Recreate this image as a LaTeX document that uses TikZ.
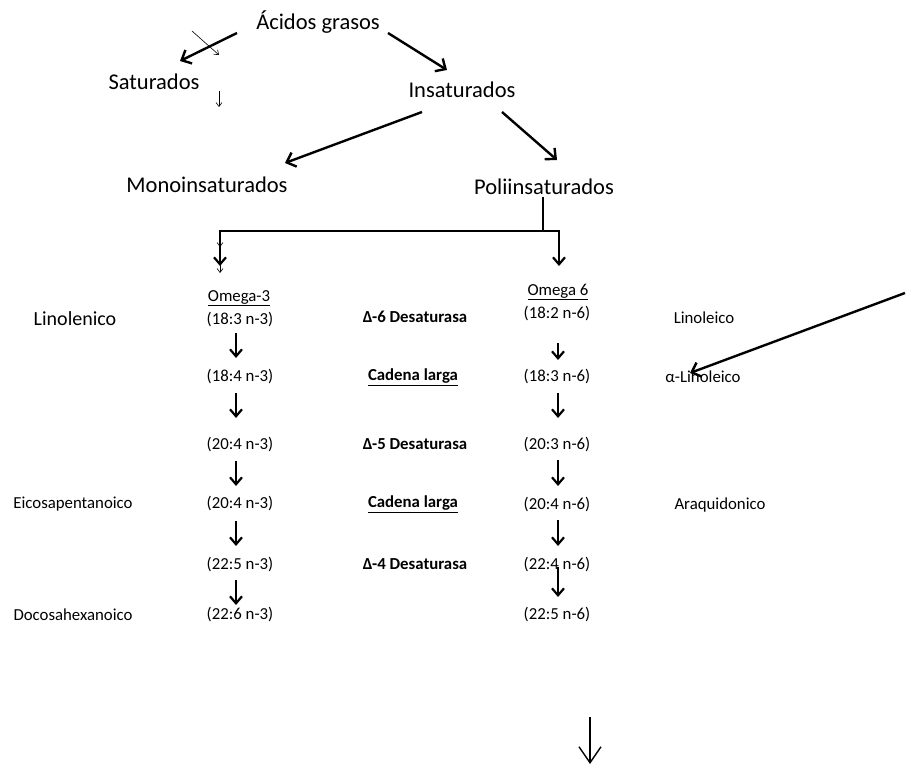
\documentclass[tikz,border=0pt]{standalone}
\usepackage{fontspec}
\setmainfont{Carlito}
\usetikzlibrary{arrows.meta,calc}
\tikzset{
    every node/.style={inner sep=0pt, font=\fontsize{16.8}{19}\selectfont}
}
\tikzset{
    big/.style={font=\fontsize{22.5}{26}\selectfont},
    mid/.style={font=\fontsize{20}{23}\selectfont},
    enzima/.style={font=\fontsize{16.8}{19}\selectfont\bfseries}
}
\tikzset{
    bigarrow/.style={line width=2.4pt, -{Straight Barb[length=8pt,width=15pt]}},
    downarrow/.style={line width=2.2pt, -{Straight Barb[length=7pt,width=12pt]}},
    thinarrow/.style={line width=0.6pt, -{Straight Barb[length=4pt,width=6pt]}},
    lastarrow/.style={line width=1.4pt, -{Straight Barb[length=16pt,width=22pt]}}
}

\begin{document}
\begin{tikzpicture}[x=1pt,y=-1pt]
	\useasboundingbox (0,0) rectangle (906,765);
	% clasificacion
	\node (acidos) [big] at (318,22) {Ácidos grasos};
	\node (sat) [big] at (154,82) {Saturados};
	\node (insat) [big] at (462,90) {Insaturados};
	\node (mono) [big] at (207,185) {Monoinsaturados};
	\node (poli) [big] at (544,187) {Poliinsaturados};
	
	\coordinate (t1) at (192,31); \coordinate (t2) at (219,55);
	\coordinate (t3) at (219,91); \coordinate (t4) at (219,107);
	\draw[thinarrow] (t1) -- (t2);
	\draw[thinarrow] (t3) -- (t4);
	
	\draw[bigarrow] ($(acidos)+(-81,11)$) -- ($(sat)+(26,-21)$);
	\draw[bigarrow] ($(acidos)+(70,11)$) -- ($(insat)+(-15,-20)$);
	\draw[bigarrow] ($(insat)+(-40,22)$) -- ($(mono)+(78,-22)$);
	\draw[bigarrow] ($(insat)+(40,22)$) -- ($(poli)+(13,-27)$);
	
	% reparto omega
	\coordinate (br) at (543,231);
	\coordinate (l3) at (220,266); \coordinate (l6) at (559,266);
	\draw[line width=2.2pt] ($(poli)+(-1,10)$) -- (br);
	\draw[downarrow] (br) -| (l3);
	\draw[downarrow] (br) -| (l6);
	\coordinate (t5) at (220,236); \coordinate (t6) at (220,247);
	\coordinate (t7) at (220,262); \coordinate (t8) at (220,273);
	\draw[thinarrow] (t5) -- (t6);
	\draw[thinarrow] (t7) -- (t8);
	
	% omega-3
	\node (o3) at (239,298) {\underline{Omega-3}};
	\node (n31) at (240,320) {(18:3 n-3)};
	\node (n32) at (240,377) {(18:4 n-3)};
	\node (n33) at (240,445) {(20:4 n-3)};
	\node (n34) at (240,504) {(20:4 n-3)};
	\node (n35) at (240,565) {(22:5 n-3)};
	\node (n36) at (240,615) {(22:6 n-3)};
	
	\draw[downarrow] ($(n31)+(-4,13)$) -- ($(n32)+(-4,-19)$);
	\draw[downarrow] ($(n32)+(-4,16)$) -- ($(n33)+(-4,-27)$);
	\draw[downarrow] ($(n33)+(-4,16)$) -- ($(n34)+(-4,-18)$);
	\draw[downarrow] ($(n34)+(-4,17)$) -- ($(n35)+(-4,-19)$);
	\draw[downarrow] ($(n35)+(-4,15)$) -- ($(n36)+(-4,-10)$);
	
	% omega 6
	\node (o6) at (558,292) {\underline{Omega 6}};
	\node (n61) at (557,314) {(18:2 n-6)};
	\node (n62) at (557,377) {(18:3 n-6)};
	\node (n63) at (557,445) {(20:3 n-6)};
	\node (n64) at (557,505) {(20:4 n-6)};
	\node (n65) at (557,565) {(22:4 n-6)};
	\node (n66) at (557,615) {(22:5 n-6)};
	
	\draw[downarrow] ($(n61)+(1,29)$) -- ($(n62)+(1,-17)$);
	\draw[downarrow] ($(n62)+(1,16)$) -- ($(n63)+(1,-27)$);
	\draw[downarrow] ($(n63)+(1,15)$) -- ($(n64)+(1,-19)$);
	\draw[downarrow] ($(n64)+(1,15)$) -- ($(n65)+(1,-19)$);
	\draw[downarrow] ($(n65)+(1,2)$) -- ($(n66)+(1,-18)$);
	
	% enzimas
	\node (e1) [enzima] at (415,317) {Δ-6 Desaturasa};
	\node (e2) [enzima] at (413,377) {\underline{Cadena larga}};
	\node (e3) [enzima] at (415,444) {Δ-5 Desaturasa};
	\node (e4) [enzima] at (413,504) {\underline{Cadena larga}};
	\node (e5) [enzima] at (415,564) {Δ-4 Desaturasa};
	
	% nombres
	\node (linolen) [mid] at (75,319) {Linolenico};
	\node (eico) at (73,504) {Eicosapentanoico};
	\node (doco) at (73,615) {Docosahexanoico};
	\node (linol) at (704,318) {Linoleico};
	\node (alin) at (703,377) {α-Linoleico};
	\node (araq) at (720,505) {Araquidonico};
	
	\coordinate (f1) at (905,293);
	\draw[bigarrow] (f1) -- ($(alin)+(-13,-4)$);
	
	\coordinate (b1) at (590,717); \coordinate (b2) at (590,764);
	\draw[lastarrow] (b1) -- (b2);
\end{tikzpicture}
\end{document}
